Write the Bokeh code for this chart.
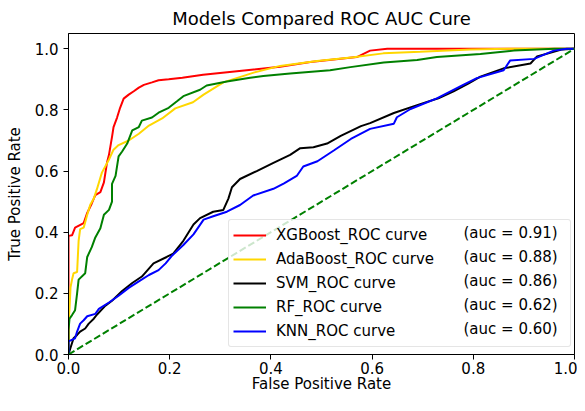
from bokeh.plotting import figure
from bokeh.models import Range1d, FixedTicker, PrintfTickFormatter, Legend, LegendItem
from bokeh.embed import file_html
from bokeh.resources import INLINE

# ---------------- data ----------------
models = ["XGBoost", "AdaBoost", "SVM", "RF", "KNN"]
auc_values = ["0.91", "0.88", "0.86", "0.62", "0.60"]
colors = ["#ff0000", "#ffd700", "#000000", "#008000", "#0000ff"]

xgb_fpr = [0, 0, 0.007, 0.013, 0.03, 0.037, 0.046, 0.053, 0.063, 0.07, 0.076, 0.08, 0.086, 0.089,
           0.096, 0.102, 0.109, 0.119, 0.129, 0.139, 0.149, 0.165, 0.178, 0.198, 0.225, 0.266,
           0.352, 0.418, 0.478, 0.57, 0.596, 0.63, 1.0]
xgb_tpr = [0, 0.388, 0.39, 0.415, 0.43, 0.463, 0.494, 0.521, 0.531, 0.563, 0.627, 0.653, 0.712, 0.744,
           0.775, 0.807, 0.837, 0.85, 0.861, 0.873, 0.882, 0.89, 0.897, 0.9, 0.905, 0.915,
           0.93, 0.941, 0.957, 0.973, 0.994, 1.0, 1.0]

ada_fpr = [0, 0, 0.002, 0.004, 0.007, 0.01, 0.017, 0.02, 0.023, 0.03, 0.037, 0.043, 0.05, 0.056,
           0.066, 0.08, 0.089, 0.099, 0.119, 0.139, 0.159, 0.185, 0.211, 0.246, 0.267, 0.306,
           0.366, 0.418, 0.491, 0.563, 0.622, 0.695, 0.794, 0.87, 1.0]
ada_tpr = [0, 0.1, 0.15, 0.22, 0.245, 0.266, 0.27, 0.372, 0.41, 0.415, 0.457, 0.49, 0.51, 0.54,
           0.595, 0.638, 0.67, 0.685, 0.70, 0.722, 0.749, 0.772, 0.805, 0.825, 0.85, 0.89,
           0.922, 0.944, 0.96, 0.972, 0.985, 0.99, 0.998, 1.0, 1.0]

svm_fpr = [0, 0.004, 0.01, 0.017, 0.023, 0.033, 0.04, 0.05, 0.056, 0.073, 0.086, 0.106, 0.126,
           0.145, 0.168, 0.194, 0.207, 0.227, 0.247, 0.26, 0.286, 0.306, 0.316, 0.323, 0.339,
           0.372, 0.405, 0.438, 0.458, 0.484, 0.511, 0.538, 0.578, 0.596, 0.643, 0.695, 0.731,
           0.761, 0.79, 0.814, 0.86, 0.913, 0.926, 0.976, 1.0]
svm_tpr = [0, 0.022, 0.053, 0.064, 0.075, 0.085, 0.101, 0.117, 0.13, 0.16, 0.176, 0.208, 0.234,
           0.255, 0.298, 0.319, 0.33, 0.372, 0.425, 0.446, 0.467, 0.473, 0.51, 0.547, 0.574,
           0.60, 0.627, 0.653, 0.675, 0.678, 0.69, 0.715, 0.747, 0.757, 0.79, 0.819, 0.838,
           0.861, 0.886, 0.909, 0.936, 0.952, 0.975, 0.998, 1.0]

rf_fpr = [0, 0, 0.002, 0.007, 0.013, 0.017, 0.02, 0.033, 0.037, 0.046, 0.053, 0.063, 0.07, 0.08,
          0.086, 0.086, 0.093, 0.099, 0.106, 0.116, 0.126, 0.139, 0.145, 0.165, 0.178, 0.198,
          0.215, 0.227, 0.26, 0.273, 0.313, 0.359, 0.385, 0.438, 0.517, 0.557, 0.623, 0.689,
          0.728, 0.814, 0.88, 0.96, 1.0]
rf_tpr = [0, 0.08, 0.117, 0.129, 0.145, 0.20, 0.245, 0.266, 0.319, 0.351, 0.383, 0.413, 0.457, 0.473,
          0.50, 0.558, 0.584, 0.648, 0.664, 0.69, 0.733, 0.744, 0.765, 0.775, 0.791, 0.807,
          0.829, 0.845, 0.866, 0.88, 0.893, 0.905, 0.911, 0.919, 0.93, 0.94, 0.955, 0.963,
          0.973, 0.983, 0.994, 1.0, 1.0]

knn_fpr = [0, 0, 0.013, 0.017, 0.023, 0.03, 0.037, 0.053, 0.06, 0.08, 0.099, 0.119, 0.139, 0.159,
           0.178, 0.192, 0.205, 0.227, 0.247, 0.267, 0.286, 0.313, 0.339, 0.365, 0.405, 0.426,
           0.451, 0.464, 0.492, 0.525, 0.558, 0.596, 0.643, 0.649, 0.676, 0.728, 0.781, 0.807,
           0.86, 0.873, 0.92, 0.959, 0.985, 1.0]
knn_tpr = [0, 0.043, 0.053, 0.075, 0.101, 0.112, 0.125, 0.133, 0.149, 0.17, 0.192, 0.218, 0.239, 0.26,
           0.276, 0.298, 0.324, 0.358, 0.393, 0.441, 0.452, 0.467, 0.489, 0.52, 0.542, 0.56,
           0.584, 0.615, 0.632, 0.668, 0.705, 0.738, 0.755, 0.776, 0.803, 0.838, 0.883, 0.904,
           0.93, 0.962, 0.967, 0.994, 1.0, 1.0]

fprs = [xgb_fpr, ada_fpr, svm_fpr, rf_fpr, knn_fpr]
tprs = [xgb_tpr, ada_tpr, svm_tpr, rf_tpr, knn_tpr]

diag_x = [0, 1]
diag_y = [0, 1]

tick_values = [0.0, 0.2, 0.4, 0.6, 0.8, 1.0]

# ---------------- figure ----------------
FONT = "DejaVu Sans"

p = figure(width=577, height=395, output_backend="svg", toolbar_location=None,
           x_range=Range1d(0, 1), y_range=Range1d(0, 1.05),
           min_border_left=68, min_border_right=3, min_border_top=26, min_border_bottom=0,
           title="Models Compared ROC AUC Cure")

p.title.align = "center"
p.title.text_font = FONT
p.title.text_font_size = "18px"
p.title.text_font_style = "normal"
p.title.text_color = "#000000"
p.title.standoff = 10

p.xgrid.visible = False
p.ygrid.visible = False
p.outline_line_color = "#000000"
p.outline_line_width = 1
p.background_fill_color = "white"
p.border_fill_color = "white"

for ax in (p.xaxis[0], p.yaxis[0]):
    ax.ticker = FixedTicker(ticks=tick_values, minor_ticks=[])
    ax.formatter = PrintfTickFormatter(format="%.1f")
    ax.axis_line_color = "#000000"
    ax.major_tick_line_color = "#000000"
    ax.major_tick_out = 5
    ax.major_tick_in = 0
    ax.minor_tick_out = 0
    ax.minor_tick_in = 0
    ax.major_label_text_font = FONT
    ax.major_label_text_font_size = "15px"
    ax.major_label_text_color = "#000000"
    ax.axis_label_text_font = FONT
    ax.axis_label_text_font_size = "15px"
    ax.axis_label_text_font_style = "normal"
    ax.axis_label_text_color = "#000000"

p.xaxis.axis_label = "False Positive Rate"
p.yaxis.axis_label = "True Positive Rate"
p.xaxis.major_label_standoff = 2
p.xaxis.axis_label_standoff = -2
p.yaxis.major_label_standoff = 5
p.yaxis.axis_label_standoff = 8

renderers = []
for fx, fy, c in zip(fprs, tprs, colors):
    r = p.line(fx, fy, line_color=c, line_width=2)
    renderers.append(r)

p.line(diag_x, diag_y, line_color="#008000", line_width=2, line_dash="7 3")

# legend geometry (screen px from the frame's bottom-left corner)
legend_x, legend_y = 160, 7.5
pad, item_h, gap = 4, 22, 2
glyph_w, standoff, label_w = 33, 10, 290
auc_x, auc_y = 395.5, 14.5

common = dict(orientation="vertical", padding=pad, spacing=gap, margin=0,
              glyph_height=item_h, label_height=item_h,
              label_text_font=FONT, label_text_font_size="15px", label_text_color="#000000")

legend = Legend(items=[LegendItem(label=f"{m}_ROC curve", renderers=[r]) for m, r in zip(models, renderers)],
                location=(legend_x, legend_y), glyph_width=glyph_w, label_width=label_w,
                label_standoff=standoff, border_line_color="#cccccc", border_line_width=1,
                background_fill_color="white", background_fill_alpha=0.8, **common)
if "border_radius" in Legend.properties():
    legend.border_radius = 3
p.add_layout(legend)

auc_legend = Legend(items=[LegendItem(label=f"(auc = {a})", renderers=[r]) for a, r in zip(auc_values, renderers)],
                    location=(auc_x, auc_y), glyph_width=0, label_width=20, label_standoff=0,
                    border_line_color=None, background_fill_alpha=0.0, **common)
p.add_layout(auc_legend)

open("out.html", "w").write(file_html(p, INLINE))
